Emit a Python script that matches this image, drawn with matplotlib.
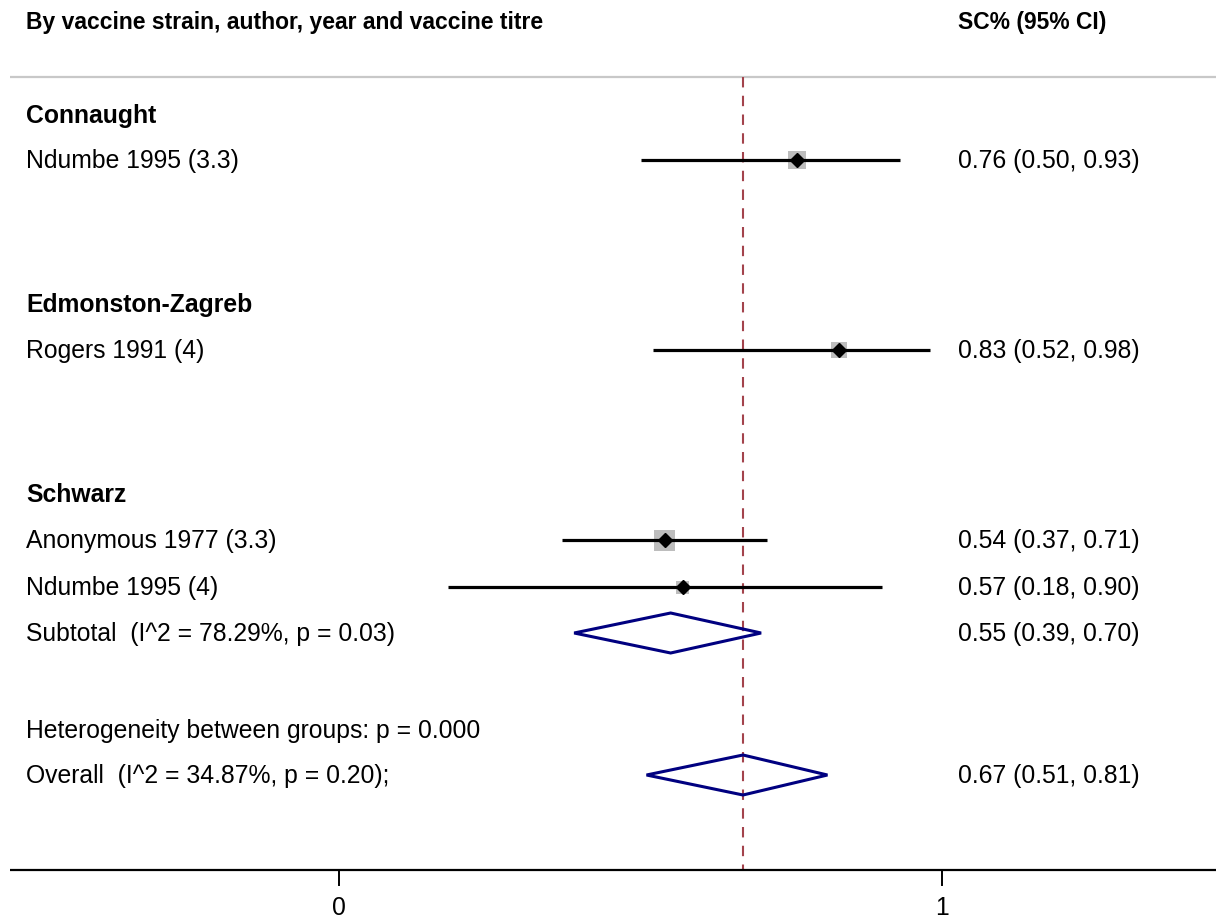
import matplotlib
matplotlib.use("Agg")
import matplotlib.pyplot as plt
from matplotlib.patches import Rectangle, Polygon

plt.rcParams['font.family'] = ['Liberation Sans', 'DejaVu Sans']

# study rows
labels = ["Ndumbe 1995 (3.3)", "Rogers 1991 (4)", "Anonymous 1977 (3.3)", "Ndumbe 1995 (4)"]
est = [0.76, 0.83, 0.54, 0.57]
lo = [0.50, 0.52, 0.37, 0.18]
hi = [0.93, 0.98, 0.71, 0.90]
box_px = [18, 16, 21, 13]          # size of grey weight boxes
ci_text = ["0.76 (0.50, 0.93)", "0.83 (0.52, 0.98)", "0.54 (0.37, 0.71)", "0.57 (0.18, 0.90)"]

groups = ["Connaught", "Edmonston-Zagreb", "Schwarz"]

sub_label = "Subtotal  (I^2 = 78.29%, p = 0.03)"
sub_est, sub_lo, sub_hi = 0.55, 0.39, 0.70
sub_text = "0.55 (0.39, 0.70)"

het_label = "Heterogeneity between groups: p = 0.000"
ov_label = "Overall  (I^2 = 34.87%, p = 0.20);"
ov_est, ov_lo, ov_hi = 0.67, 0.51, 0.81
ov_text = "0.67 (0.51, 0.81)"

xticks = [0, 1]

# layout (pixel rows, top = 0)
W, H = 1216, 920
x0_px, x1_px = 339, 942
scale = x1_px - x0_px
def px2x(p):
    return (p - x0_px) / scale

group_y = [116, 305, 495]
study_y = [161, 351, 541, 588]
sub_y = 634
het_y = 731
ov_y = 776
axis_y = 871
fs = 17.8

fig = plt.figure(figsize=(W / 100, H / 100), dpi=100)
ax = fig.add_axes([0, 0, 1, 1])
ax.set_xlim(px2x(0), px2x(W))
ax.set_ylim(H, 0)
ax.axis("off")

left = px2x(26)
right = px2x(958)

# header
ax.text(left, 22, "By vaccine strain, author, year and vaccine titre", fontsize=16.5,
        fontweight="bold", va="center", ha="left")
ax.text(right, 22, "SC% (95% CI)", fontsize=16.5, fontweight="bold", va="center", ha="left")
ax.plot([px2x(10), px2x(W)], [78, 78], color="#c8c8c8", lw=1.6, solid_capstyle="butt")

# overall estimate line
ax.plot([ov_est, ov_est], [78, axis_y], color="#a3434c", lw=1.5, dashes=(5, 4))

for g, y in zip(groups, group_y):
    ax.text(left, y, g, fontsize=fs, fontweight="bold", va="center", ha="left")

for lab, e, l, h, b, t, y in zip(labels, est, lo, hi, box_px, ci_text, study_y):
    ax.text(left, y, lab, fontsize=fs, va="center", ha="left")
    ax.text(right, y, t, fontsize=fs, va="center", ha="left")
    bw = b / scale
    ax.add_patch(Rectangle((e - bw / 2, y - b / 2), bw, b, color="#bdbdbd", lw=0, zorder=2))
    ax.plot([l, h], [y, y], color="black", lw=2.3, solid_capstyle="butt", zorder=3)
    ax.plot(e, y, marker="D", color="black", ms=7.5, zorder=4)

def diamond(e, l, h, y):
    pts = [(l, y), (e, y - 20), (h, y), (e, y + 20)]
    ax.add_patch(Polygon(pts, closed=True, fill=False, edgecolor="#000080", lw=2.2, zorder=3))

ax.text(left, sub_y, sub_label, fontsize=fs, va="center", ha="left")
ax.text(right, sub_y, sub_text, fontsize=fs, va="center", ha="left")
diamond(sub_est, sub_lo, sub_hi, sub_y)

ax.text(left, het_y, het_label, fontsize=fs, va="center", ha="left")

ax.text(left, ov_y, ov_label, fontsize=fs, va="center", ha="left")
ax.text(right, ov_y, ov_text, fontsize=fs, va="center", ha="left")
diamond(ov_est, ov_lo, ov_hi, ov_y)

# x axis
ax.plot([px2x(10), px2x(W)], [axis_y, axis_y], color="black", lw=1.6, solid_capstyle="butt")
for t in xticks:
    ax.plot([t, t], [axis_y, axis_y + 15], color="black", lw=1.4)
    ax.text(t, 908, str(t), fontsize=fs, va="center", ha="center")

fig.savefig("out.png", dpi=100)
